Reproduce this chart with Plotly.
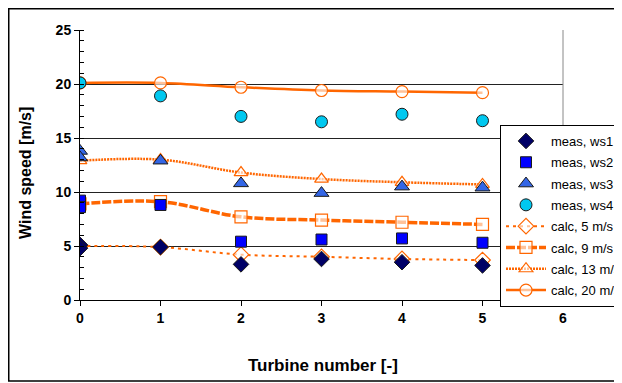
import plotly.graph_objects as go

# ---- data ----
meas_ws1_x = [0, 0, 1, 2, 3, 4, 5]
meas_ws1_y = [5.1, 4.8, 4.9, 3.3, 3.8, 3.5, 3.2]
meas_ws2_x = [0, 0, 1, 2, 3, 4, 5]
meas_ws2_y = [9.2, 8.6, 8.8, 5.4, 5.6, 5.7, 5.3]
meas_ws3_x = [0, 0, 1, 2, 3, 4, 5]
meas_ws3_y = [13.8, 13.2, 12.9, 10.8, 9.9, 10.5, 10.4]
meas_ws4_x = [0, 1, 2, 3, 4, 5]
meas_ws4_y = [20.1, 18.9, 17.0, 16.5, 17.2, 16.6]

calc_x = [0, 1, 2, 3, 4, 5]
calc_5 = [5.0, 4.9, 4.2, 4.0, 3.8, 3.7]
calc_9 = [8.9, 9.1, 7.7, 7.4, 7.2, 7.0]
calc_13 = [12.9, 13.0, 11.8, 11.2, 10.9, 10.7]
calc_20 = [20.1, 20.1, 19.7, 19.4, 19.3, 19.2]

x_ticks = [0, 1, 2, 3, 4, 5, 6]
y_ticks = [0, 5, 10, 15, 20, 25]

ORANGE = "#FF6600"
FONT = "Arial, Liberation Sans, sans-serif"

# plot area in window pixels (page body has an 8px margin)
PX_L, PX_R, PX_T, PX_B = 80, 563, 30, 300


def px_x(px):
    return (px - PX_L) / (PX_R - PX_L)


def px_y(py):
    return (PX_B - py) / (PX_B - PX_T)


fig = go.Figure()

calc_series = [
    ("calc, 5 m/s", calc_5, "diamond", dict(width=2, dash="3px,4px"), 5),
    ("calc, 9 m/s", calc_9, "square", dict(width=3.5, dash="9px,2px"), 6),
    ("calc, 13 m/s", calc_13, "triangle-up", dict(width=2.5, dash="2px,1px"), 7),
    ("calc, 20 m/s", calc_20, "circle", dict(width=2.5), 8),
]
for name, ys, sym, ln, rank in calc_series:
    fig.add_trace(go.Scatter(
        x=calc_x, y=ys, name=name, mode="lines+markers",
        line=dict(color=ORANGE, shape="spline", smoothing=1.0, **ln),
        marker=dict(symbol=sym, size=12, color="rgba(255,255,255,0.6)",
                    line=dict(color=ORANGE, width=1.2)),
        legendrank=rank, legendgroup=name,
    ))

meas_series = [
    ("meas, ws1", meas_ws1_x, meas_ws1_y, "diamond", "#000066", 12, 1),
    ("meas, ws2", meas_ws2_x, meas_ws2_y, "square", "#0000FF", 11, 2),
    ("meas, ws3", meas_ws3_x, meas_ws3_y, "triangle-up", "#3366E6", 13, 3),
    ("meas, ws4", meas_ws4_x, meas_ws4_y, "circle", "#00C8F0", 12, 4),
]
for name, xs, ys, sym, col, sz, rank in meas_series:
    fig.add_trace(go.Scatter(
        x=xs, y=ys, name=name, mode="markers",
        marker=dict(symbol=sym, size=sz, color=col,
                    line=dict(color="#1a1a1a", width=1)),
        legendrank=rank, legendgroup=name,
    ))

W, H = 622, 383
fig.update_layout(
    width=W, height=H,
    margin=dict(l=PX_L - 8, r=W - (PX_R - 8), t=PX_T - 8, b=H - (PX_B - 8),
                autoexpand=False),
    paper_bgcolor="white", plot_bgcolor="white",
    font=dict(family=FONT, color="black"),
    legend=dict(
        x=px_x(500), y=px_y(125), xanchor="left", yanchor="top",
        bgcolor="white", bordercolor="black", borderwidth=1,
        font=dict(size=13, family=FONT),
        itemwidth=40, tracegroupgap=1.4,
    ),
    xaxis=dict(
        range=[0, 6], tickvals=x_ticks, ticktext=[str(v) for v in x_ticks],
        showgrid=False, zeroline=False,
        showline=True, linecolor="black", linewidth=1,
        ticks="outside", ticklen=5, tickcolor="black",
        tickfont=dict(size=14, family=FONT, weight="bold"),
    ),
    yaxis=dict(
        range=[0, 25], tickvals=y_ticks, ticktext=[str(v) for v in y_ticks],
        showgrid=True, gridcolor="#222222", gridwidth=1, zeroline=False,
        showline=True, linecolor="black", linewidth=1,
        ticks="outside", ticklen=5, tickcolor="black",
        minor=dict(dtick=1, ticks="inside", ticklen=4, tickcolor="black", showgrid=False),
        tickfont=dict(size=14, family=FONT, weight="bold"),
    ),
    showlegend=True,
)

# plot-area right border
fig.add_shape(type="line", xref="paper", yref="paper", x0=1, x1=1, y0=0, y1=1,
              line=dict(color="#888888", width=1))
# outer chart frame
fig.add_shape(type="rect", xref="paper", yref="paper",
              x0=px_x(8.75), x1=px_x(640),
              y0=px_y(381), y1=px_y(8.75),
              line=dict(color="black", width=1.5), layer="above")

fig.add_annotation(text="Wind speed [m/s]", xref="paper", yref="paper",
                   x=px_x(25), y=px_y(173), textangle=-90,
                   xanchor="center", yanchor="middle",
                   showarrow=False,
                   font=dict(size=16, family=FONT, weight="bold"))
fig.add_annotation(text="Turbine number [-]", xref="paper", yref="paper",
                   x=px_x(323), y=px_y(365),
                   xanchor="center", yanchor="middle",
                   showarrow=False,
                   font=dict(size=17, family=FONT, weight="bold"))

fig.write_html("out.html")
